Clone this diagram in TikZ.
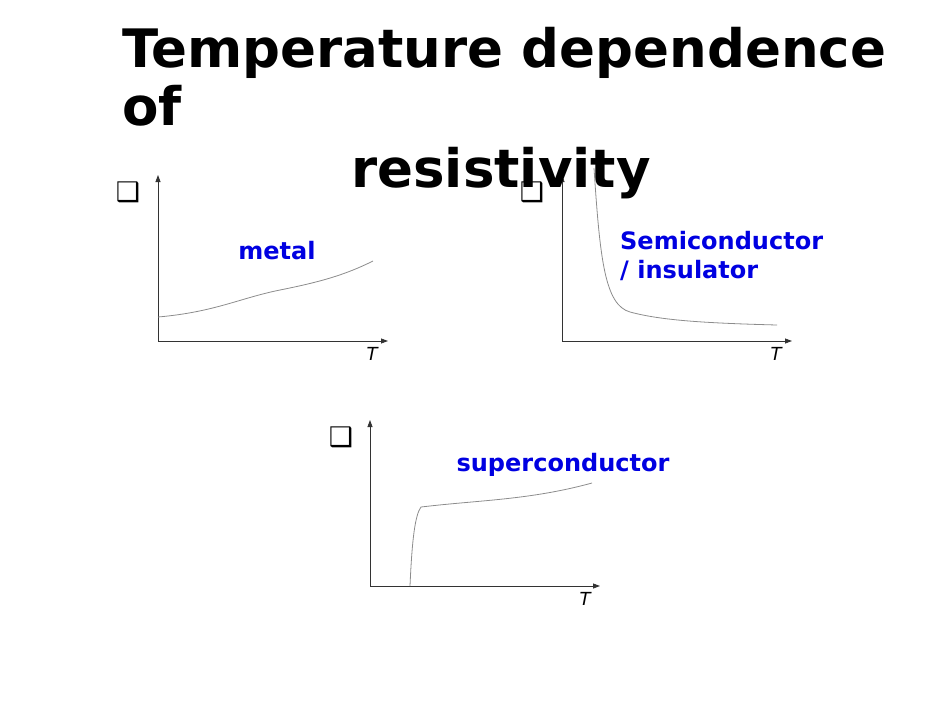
\documentclass[tikz,border=0pt]{standalone}
\usepackage{fontspec}
\setmainfont{DejaVu Sans}
\usetikzlibrary{arrows.meta}
\definecolor{labelblue}{RGB}{0,0,225}

\begin{document}
\begin{tikzpicture}[x=1pt, y=-1pt,
	axis/.style={draw=black!80, line width=0.8pt, -{Triangle[length=7pt, width=5pt]}},
	curve/.style={draw=black!45, line width=0.8pt},
	kind/.style={text=labelblue, font=\fontsize{24}{29}\selectfont\bfseries, inner sep=0pt},
	rho/.style={font=\fontsize{27}{27}\selectfont, inner sep=0pt},
	tlabel/.style={font=\fontsize{18}{18}\selectfont\itshape, inner sep=0pt}]
	\useasboundingbox (0,0) rectangle (950,713);

	% metal
	\coordinate (o1) at (158,341);
	\coordinate (y1) at (158,175);
	\coordinate (x1) at (388,341);
	\draw [axis] (o1) -- (y1);
	\draw [axis] (o1) -- (x1);
	\draw [curve] (158,317) .. controls (215,312) and (240,298) .. (280,290)
		.. controls (320,282) and (345,275) .. (373,261);
	\node (rho1) [rho] at (128,192) {❑};
	\node (t1) [tlabel] at (372,354) {T};
	\node (metal) [kind] at (277,251) {metal};

	% semiconductor
	\coordinate (o2) at (562,341);
	\coordinate (y2) at (562,175);
	\coordinate (x2) at (792,341);
	\draw [axis] (o2) -- (y2);
	\draw [axis] (o2) -- (x2);
	\draw [curve] (594,168) .. controls (600,260) and (605,305) .. (630,312)
		.. controls (660,320) and (700,323) .. (777,325);
	\node (rho2) [rho] at (532,192) {❑};
	\node (t2) [tlabel] at (776,354) {T};
	\node (semi) [kind, anchor=base west, align=left] at (620,278) {Semiconductor\\/ insulator};

	% superconductor
	\coordinate (o3) at (370,586);
	\coordinate (y3) at (370,420);
	\coordinate (x3) at (600,586);
	\draw [axis] (o3) -- (y3);
	\draw [axis] (o3) -- (x3);
	\draw [curve] (410,586) .. controls (412,540) and (415,515) .. (421,507)
		.. controls (480,500) and (530,500) .. (592,483);
	\node (rho3) [rho] at (341,437) {❑};
	\node (t3) [tlabel] at (585,599) {T};
	\node (super) [kind] at (563,465) {superconductor};

	% title
	\node (title) [anchor=base west, align=left, inner sep=0pt,
		font=\fontsize{53}{58}\selectfont\bfseries] at (122,125) {Temperature dependence\\of};
	\node (title2) [anchor=base, inner sep=0pt,
		font=\fontsize{53}{58}\selectfont\bfseries] at (501,187) {resistivity};
\end{tikzpicture}
\end{document}
